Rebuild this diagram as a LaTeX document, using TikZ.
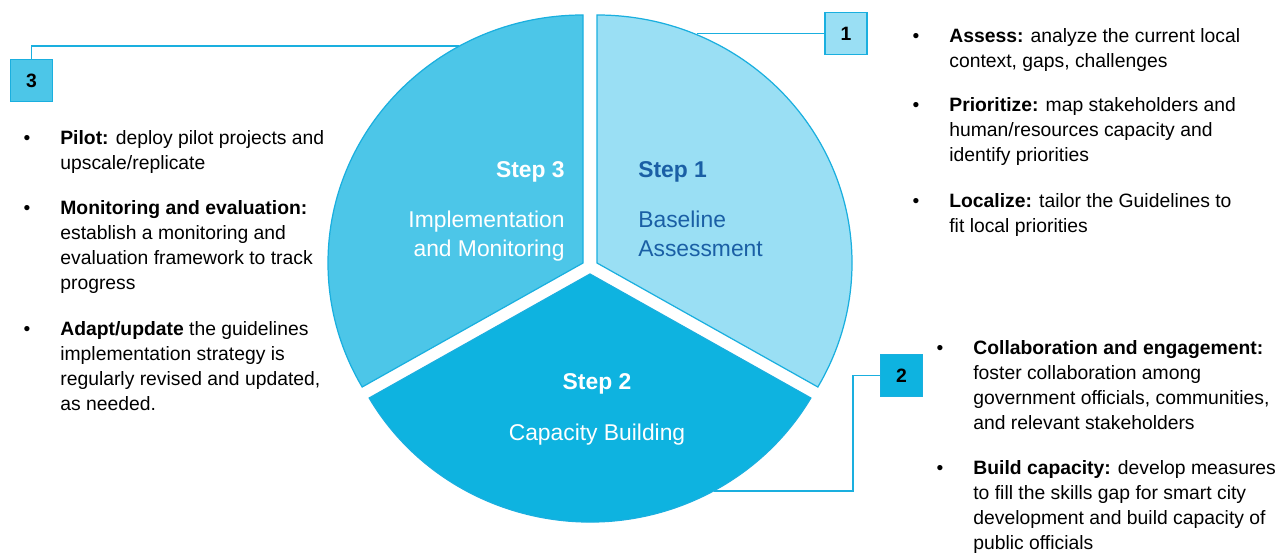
\documentclass[tikz,border=0pt]{standalone}
\usepackage{fontspec}
\setmainfont{Liberation Sans}
\usetikzlibrary{calc}

\definecolor{edgeblue}{HTML}{1AAFDF}
\definecolor{paleblue}{HTML}{9ADFF4}
\definecolor{midblue}{HTML}{4CC6E8}
\definecolor{deepblue}{HTML}{0EB3E0}
\definecolor{navytext}{HTML}{1A5FA5}

\newcommand{\bodysize}{\fontsize{11}{14.17}\selectfont}
\newcommand{\stepsize}{\fontsize{13}{16.4}\selectfont}
% lines stacked from the first baseline down
\newcommand{\lines}[2][l]{\begin{tabular}[t]{@{}#1@{}}#2\end{tabular}}

\tikzset{
  sector/.style={draw=edgeblue,line width=0.7pt,line join=miter},
  link/.style={draw=edgeblue,line width=0.9pt},
  numbox/.style={draw=edgeblue,line width=0.9pt,minimum size=0.84cm,inner sep=0pt,font=\bodysize\bfseries},
  item/.style={anchor=base west,inner sep=0pt,font=\bodysize},
  dot/.style={anchor=base,inner sep=0pt,font=\bodysize},
  steptitle/.style={inner sep=0pt,font=\stepsize\bfseries},
  stepname/.style={inner sep=0pt,font=\stepsize}
}

\begin{document}
\begin{tikzpicture}[x=0.02cm,y=0.02cm]
\useasboundingbox (0,0) rectangle (1280,554);

% Sector centres
\coordinate (c1) at (597,291);
\coordinate (c3) at (583,291);
\coordinate (c2) at (590,280);

% Points on the rim where the leader lines end
\coordinate (a1) at ($(c1)+(66.8:255 and 248)$);
\coordinate (a3) at ($(c3)+(119:255 and 248)$);
\coordinate (a2) at ($(c2)+(-61:255 and 248)$);

% Number boxes
\node[numbox,fill=paleblue] (n1) at (846,520.5) {1};
\node[numbox,fill=deepblue] (n2) at (901.5,178.5) {2};
\node[numbox,fill=midblue] (n3) at (31.5,473.5) {3};

% Leader lines
\draw[link] (n1.west) -- (a1 |- n1.west);
\draw[link] (n2.west) -- ++(-27,0) |- (a2);
\draw[link] (n3.north) |- (a3);

% Pie sectors
\foreach \c/\a/\b/\col in {c1/90/-30/paleblue, c3/90/210/midblue, c2/210/330/deepblue} {
  \filldraw[sector,fill=\col] (\c) -- ++(\a:255 and 248)
    arc[start angle=\a,end angle=\b,x radius=255,y radius=248] -- cycle;
}

% Sector labels
\node[steptitle,anchor=base west,text=navytext] (s1) at (638,376) {Step 1};
\node[stepname,anchor=base west,text=navytext] (s1t) at (638,326) {\lines{Baseline\\Assessment}};
\node[steptitle,anchor=base east,text=white] (s3) at (565,376) {Step 3};
\node[stepname,anchor=base east,text=white] (s3t) at (565,326) {\lines[r]{Implementation\\and Monitoring}};
\node[steptitle,anchor=base,text=white] (s2) at (597,164) {Step 2};
\node[stepname,anchor=base,text=white] (s2t) at (597,113) {Capacity Building};

% Step 1 points
\node[item] (p1) at (949,511) {\lines{\textbf{Assess:} analyze the current local\\context, gaps, challenges}};
\node[item] (p2) at (949,442) {\lines{\textbf{Prioritize:} map stakeholders and\\human/resources capacity and\\identify priorities}};
\node[item] (p3) at (949,346) {\lines{\textbf{Localize:} tailor the Guidelines to\\fit local priorities}};
\node[dot] (d1) at ([xshift=-0.66cm]p1.base west) {•};
\node[dot] (d2) at ([xshift=-0.66cm]p2.base west) {•};
\node[dot] (d3) at ([xshift=-0.66cm]p3.base west) {•};

% Step 3 points
\node[item] (q1) at (60,409) {\lines{\textbf{Pilot:} deploy pilot projects and\\upscale/replicate}};
\node[item] (q2) at (60,339) {\lines{\textbf{Monitoring and evaluation:}\\establish a monitoring and\\evaluation framework to track\\progress}};
\node[item] (q3) at (60,218) {\lines{\textbf{Adapt/update} the guidelines\\implementation strategy is\\regularly revised and updated,\\as needed.}};
\node[dot] (e1) at ([xshift=-0.66cm]q1.base west) {•};
\node[dot] (e2) at ([xshift=-0.66cm]q2.base west) {•};
\node[dot] (e3) at ([xshift=-0.66cm]q3.base west) {•};

% Step 2 points
\node[item] (r1) at (973,199) {\lines{\textbf{Collaboration and engagement:}\\foster collaboration among\\government officials, communities,\\and relevant stakeholders}};
\node[item] (r2) at (973,79) {\lines{\textbf{Build capacity:} develop measures\\to fill the skills gap for smart city\\development and build capacity of\\public officials}};
\node[dot] (f1) at ([xshift=-0.66cm]r1.base west) {•};
\node[dot] (f2) at ([xshift=-0.66cm]r2.base west) {•};

\end{tikzpicture}
\end{document}
